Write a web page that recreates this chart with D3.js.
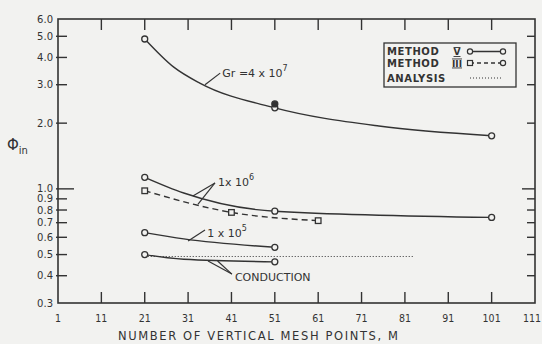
<!DOCTYPE html>
<html>
<head>
<meta charset="utf-8">
<script src="https://cdn.jsdelivr.net/npm/d3@7"></script>
<style>
  body { margin: 0; background: #f2f2f0; }
  svg { display: block; }
  text { font-family: "DejaVu Sans", sans-serif; fill: #333; }
  .cond { font-family: "DejaVu Sans Condensed", "DejaVu Sans", sans-serif; }
</style>
</head>
<body>
<div id="chart"></div>
<script>
// axis ticks
const xTicks = [1, 11, 21, 31, 41, 51, 61, 71, 81, 91, 101, 111];
const yTicks = [6.0, 5.0, 4.0, 3.0, 2.0, 1.0, 0.9, 0.8, 0.7, 0.6, 0.5, 0.4, 0.3];

// Gr = 4x10^7, method V (curve trace + plotted points)
const gr7Curve = [[21, 4.86], [27.7, 3.61], [33.7, 3.05], [51, 2.35], [75, 1.94], [101, 1.75]];
const gr7Points = [[21, 4.86], [51, 2.35], [101, 1.75]];
const gr7Filled = [[51, 2.45]];

// 1x10^6
const gr6CurveV = [[21, 1.13], [30, 0.957], [51, 0.79], [101, 0.74]];
const gr6PointsV = [[21, 1.13], [51, 0.79], [101, 0.74]];
const gr6PointsIII = [[21, 0.98], [41, 0.78], [61, 0.715]];

// 1x10^5
const gr5Curve = [[21, 0.63], [30, 0.59], [51, 0.54]];
const gr5Points = [[21, 0.63], [51, 0.54]];

// conduction
const condCurve = [[21, 0.50], [30, 0.476], [51, 0.463]];
const condPoints = [[21, 0.50], [51, 0.463]];
const condAnalysis = [[21, 0.49], [83, 0.49]];

// annotation leaders [from, to] in data units
const gr7Leader = [[[38.4, 3.39], [34.9, 3.0]]];
const gr6Leader = [[[37.2, 1.064], [32.1, 0.928]], [[37.2, 1.064], [33.3, 0.852]]];
const gr5Leader = [[[34.9, 0.648], [31.0, 0.577]]];
const condLeader = [[[41.1, 0.407], [35.6, 0.467]], [[41.1, 0.407], [37.8, 0.467]]];

const W = 542, H = 344;
const mLeft = 58, mRight = 535, mTop = 19, mBottom = 303;
const ink = "#333";
const paper = "#f2f2f0";

const svg = d3.select("#chart").append("svg")
  .attr("width", W).attr("height", H);

const x = d3.scaleLinear().domain([1, 111]).range([mLeft, mRight]);
const y = d3.scaleLog().domain([0.3, 6]).range([mBottom, mTop]);

// frame
svg.append("rect")
  .attr("x", mLeft).attr("y", mTop)
  .attr("width", mRight - mLeft).attr("height", mBottom - mTop)
  .attr("fill", "none").attr("stroke", ink).attr("stroke-width", 1.6);

// x ticks (bottom and top, inward)
const innerX = xTicks.filter(d => d > 1 && d < 111);
svg.append("g").selectAll("line").data(innerX).join("line")
  .attr("x1", d => x(d)).attr("x2", d => x(d))
  .attr("y1", mBottom).attr("y2", mBottom - 11)
  .attr("stroke", ink).attr("stroke-width", 1.4);
svg.append("g").selectAll("line").data(innerX).join("line")
  .attr("x1", d => x(d)).attr("x2", d => x(d))
  .attr("y1", mTop).attr("y2", mTop + 11)
  .attr("stroke", ink).attr("stroke-width", 1.4);

// last label sits against the page edge, so anchor it at its end
svg.append("g").selectAll("text").data(xTicks).join("text")
  .attr("class", "cond")
  .attr("x", d => d === 111 ? W - 1 : x(d)).attr("y", mBottom + 19)
  .attr("text-anchor", d => d === 111 ? "end" : "middle")
  .style("font-size", "10.5px")
  .text(d => d);

// y ticks (left and right, inward)
const innerY = yTicks.filter(d => d < 6 && d > 0.3);
svg.append("g").selectAll("line").data(innerY).join("line")
  .attr("x1", mLeft - 2).attr("x2", d => mLeft + (d === 1 ? 16 : 9))
  .attr("y1", d => y(d)).attr("y2", d => y(d))
  .attr("stroke", ink).attr("stroke-width", 1.4);
svg.append("g").selectAll("line").data(innerY).join("line")
  .attr("x1", mRight).attr("x2", d => mRight - (d === 1 ? 13 : 8))
  .attr("y1", d => y(d)).attr("y2", d => y(d))
  .attr("stroke", ink).attr("stroke-width", 1.4);

svg.append("g").selectAll("text").data(yTicks).join("text")
  .attr("x", mLeft - 5).attr("y", d => y(d) + 3.5)
  .attr("text-anchor", "end")
  .style("font-size", "10px")
  .text(d => d.toFixed(1));

// axis titles
svg.append("text")
  .attr("x", 118).attr("y", 340)
  .attr("textLength", 280).attr("lengthAdjust", "spacing")
  .style("font-size", "11.5px")
  .text("NUMBER OF VERTICAL MESH POINTS, M");

const phi = svg.append("text").attr("x", 7).attr("y", 150).style("font-size", "15px");
phi.append("tspan").text("Φ");
phi.append("tspan").attr("dy", 4).style("font-size", "10px").text("in");

// lines
const line = d3.line().x(d => x(d[0])).y(d => y(d[1])).curve(d3.curveMonotoneX);
const lin = d3.line().x(d => x(d[0])).y(d => y(d[1]));

function path(data, gen, dash, width) {
  svg.append("path").datum(data)
    .attr("d", gen)
    .attr("fill", "none").attr("stroke", ink)
    .attr("stroke-width", width || 1.4)
    .attr("stroke-dasharray", dash || null);
}

path(gr7Curve, line);
path(gr6CurveV, line);
path(gr6PointsIII, line, "6,4");
path(gr5Curve, line);
path(condCurve, line);
path(condAnalysis, lin, "1,2", 1);

[gr7Leader, gr6Leader, gr5Leader, condLeader].forEach(ls => {
  ls.forEach(seg => path(seg, lin, null, 1.2));
});

function circles(data, filled) {
  svg.append("g").selectAll("circle").data(data).join("circle")
    .attr("cx", d => x(d[0])).attr("cy", d => y(d[1]))
    .attr("r", 3)
    .attr("fill", filled ? ink : paper)
    .attr("stroke", ink).attr("stroke-width", 1.3);
}
function squares(data) {
  svg.append("g").selectAll("rect").data(data).join("rect")
    .attr("x", d => x(d[0]) - 2.8).attr("y", d => y(d[1]) - 2.8)
    .attr("width", 5.6).attr("height", 5.6)
    .attr("fill", paper)
    .attr("stroke", ink).attr("stroke-width", 1.3);
}

circles(gr7Points);
circles(gr7Filled, true);
circles(gr6PointsV);
squares(gr6PointsIII);
circles(gr5Points);
circles(condPoints);

// annotation labels
function label(pos, base, sup) {
  const t = svg.append("text").attr("x", x(pos[0])).attr("y", y(pos[1]))
    .style("font-size", "11px");
  t.append("tspan").text(base);
  t.append("tspan").attr("dy", -6).style("font-size", "8px").text(sup);
}
label([38.9, 3.25], "Gr =4 x 10", "7");
label([37.9, 1.03], "1x 10", "6");
label([35.4, 0.602], "1 x 10", "5");
svg.append("text").attr("x", x(41.8)).attr("y", y(0.378))
  .style("font-size", "11px").text("CONDUCTION");

// legend
const lg = svg.append("g");
lg.append("rect").attr("x", 384).attr("y", 43).attr("width", 132).attr("height", 44)
  .attr("fill", "none").attr("stroke", ink).attr("stroke-width", 1.3);

const rows = [
  { label: "METHOD", num: "V", y: 55, kind: "V" },
  { label: "METHOD", num: "III", y: 66.5, kind: "III" },
  { label: "ANALYSIS", num: "", y: 81.5, kind: "A" }
];
rows.forEach(r => {
  lg.append("text").attr("x", 387).attr("y", r.y).style("font-size", "10px")
    .style("font-weight", "bold").style("letter-spacing", "0.6px").text(r.label);
  if (r.num) {
    lg.append("text").attr("x", 457).attr("y", r.y).attr("text-anchor", "middle")
      .style("font-size", "9px").style("font-weight", "bold")
      .style("text-decoration", "underline overline").text(r.num);
  }
  const ly = r.y - 3.5;
  if (r.kind === "A") {
    lg.append("line").attr("x1", 470).attr("x2", 503).attr("y1", ly).attr("y2", ly)
      .attr("stroke", ink).attr("stroke-width", 1).attr("stroke-dasharray", "1,2");
    return;
  }
  lg.append("line").attr("x1", 470).attr("x2", 503).attr("y1", ly).attr("y2", ly)
    .attr("stroke", ink).attr("stroke-width", 1.3)
    .attr("stroke-dasharray", r.kind === "III" ? "4,3" : null);
  if (r.kind === "III") {
    lg.append("rect").attr("x", 467.5).attr("y", ly - 2.5).attr("width", 5).attr("height", 5)
      .attr("fill", paper).attr("stroke", ink).attr("stroke-width", 1.2);
  } else {
    lg.append("circle").attr("cx", 470).attr("cy", ly).attr("r", 2.6)
      .attr("fill", paper).attr("stroke", ink).attr("stroke-width", 1.2);
  }
  lg.append("circle").attr("cx", 503).attr("cy", ly).attr("r", 2.6)
    .attr("fill", paper).attr("stroke", ink).attr("stroke-width", 1.2);
});
</script>
</body>
</html>
